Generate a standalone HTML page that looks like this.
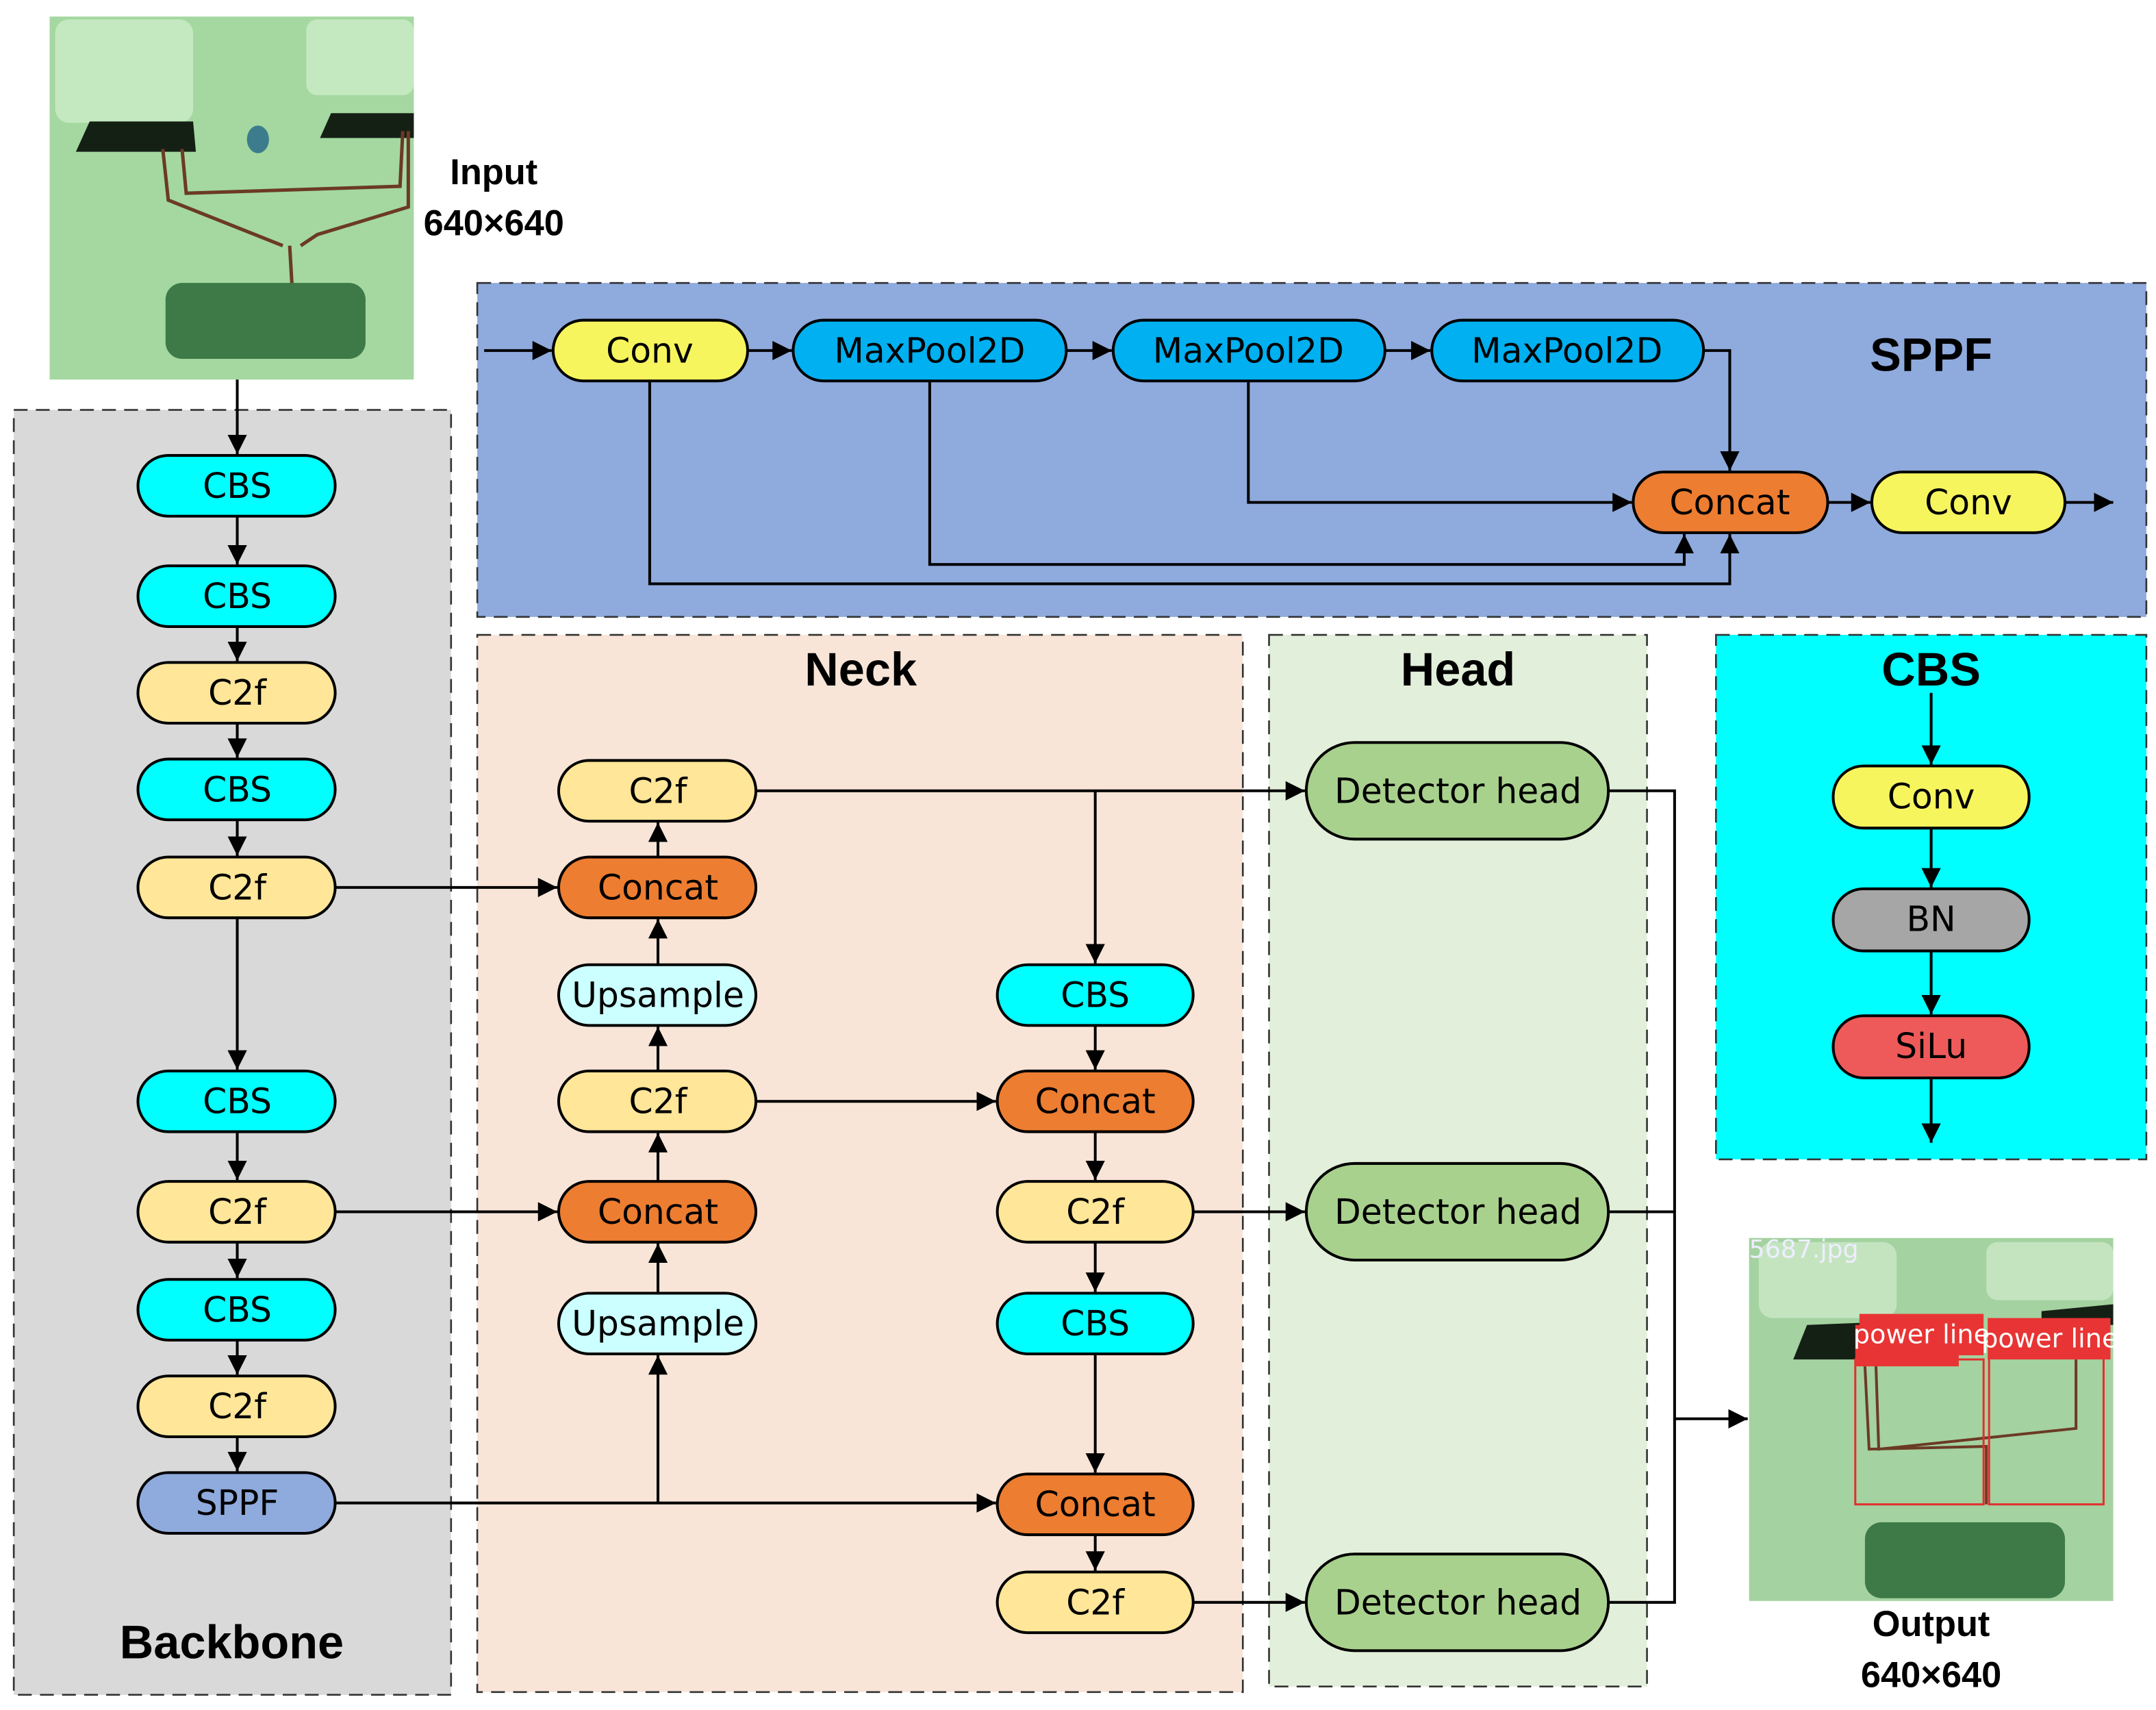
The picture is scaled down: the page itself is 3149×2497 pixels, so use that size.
<!DOCTYPE html>
<html><head><meta charset="utf-8"><style>
html,body{margin:0;padding:0;background:#fff;}
svg{display:block;}
text{font-family:"DejaVu Sans","Liberation Sans",sans-serif;}
.t{font-size:25px;text-anchor:middle;dominant-baseline:central;}
.h{font-family:"Liberation Sans",sans-serif;font-weight:bold;font-size:34px;text-anchor:middle;dominant-baseline:central;}
.n{stroke:#000;stroke-width:2;}
.l{stroke:#000;stroke-width:2;fill:none;}
</style></head><body>
<svg width="3149" height="2497" viewBox="0 0 1563 1239" preserveAspectRatio="none" xmlns="http://www.w3.org/2000/svg">
<defs>
<marker id="b" viewBox="0 0 10 10" markerWidth="14" markerHeight="14" refX="10" refY="5" orient="auto" markerUnits="userSpaceOnUse"><path d="M0,0 L10,5 L0,10 z" fill="#000"/></marker>
</defs>
<rect x="36" y="12" width="264" height="263" fill="#a4d8a0"/>
<rect x="40" y="14" width="100" height="75" rx="10" fill="#c4e8c0"/>
<rect x="222" y="14" width="78" height="55" rx="8" fill="#c4e8c0"/>
<path d="M55,110 L65,88 L140,88 L142,110 Z" fill="#152015"/>
<path d="M232,100 L240,82 L300,82 L300,100 Z" fill="#152015"/>
<ellipse cx="187" cy="101" rx="8" ry="10" fill="#3c7c8c"/>
<path d="M118,108 L122,145 L205,178 M132,108 L135,140 L290,135 L292,95 M210,178 L212,212 M218,178 L230,170 L296,150 L296,95" stroke="#6b3a25" stroke-width="2.5" fill="none"/>
<rect x="120" y="205" width="145" height="55" rx="12" fill="#3d7a48"/>
<text class="h" x="358" y="125" style="font-size:26px">Input</text>
<text class="h" x="358" y="162" style="font-size:26px">640×640</text>

<rect x="10" y="297" width="317" height="931" fill="#d9d9d9" stroke="#333" stroke-width="1.3" stroke-dasharray="10,6"/>
<rect x="346" y="205" width="1210" height="242" fill="#8faadc" stroke="#333" stroke-width="1.3" stroke-dasharray="10,6"/>
<rect x="346" y="460" width="555" height="766" fill="#f8e5d8" stroke="#333" stroke-width="1.3" stroke-dasharray="10,6"/>
<rect x="920" y="460" width="274" height="762" fill="#e2efda" stroke="#333" stroke-width="1.3" stroke-dasharray="10,6"/>
<rect x="1244" y="460" width="312" height="380" fill="#00ffff" stroke="#333" stroke-width="1.3" stroke-dasharray="10,6"/>

<text class="h" x="168" y="1190">Backbone</text>
<text class="h" x="1400" y="257">SPPF</text>
<text class="h" x="624" y="485">Neck</text>
<text class="h" x="1057" y="485">Head</text>
<text class="h" x="1400" y="485">CBS</text>

<g class="l">
<line x1="172" y1="275" x2="172" y2="329" marker-end="url(#b)"/>
<line x1="172" y1="374" x2="172" y2="409" marker-end="url(#b)"/>
<line x1="172" y1="454" x2="172" y2="479" marker-end="url(#b)"/>
<line x1="172" y1="524" x2="172" y2="549" marker-end="url(#b)"/>
<line x1="172" y1="594" x2="172" y2="620" marker-end="url(#b)"/>
<line x1="172" y1="665" x2="172" y2="775" marker-end="url(#b)"/>
<line x1="172" y1="820" x2="172" y2="855" marker-end="url(#b)"/>
<line x1="172" y1="900" x2="172" y2="926" marker-end="url(#b)"/>
<line x1="172" y1="971" x2="172" y2="996" marker-end="url(#b)"/>
<line x1="172" y1="1041" x2="172" y2="1066" marker-end="url(#b)"/>
<line x1="351" y1="254" x2="400" y2="254" marker-end="url(#b)"/>
<line x1="542" y1="254" x2="574" y2="254" marker-end="url(#b)"/>
<line x1="773" y1="254" x2="806" y2="254" marker-end="url(#b)"/>
<line x1="1004" y1="254" x2="1037" y2="254" marker-end="url(#b)"/>
<polyline points="1235,254 1254,254 1254,341" marker-end="url(#b)"/>
<polyline points="905,276 905,364 1183,364" marker-end="url(#b)"/>
<polyline points="674,276 674,409 1221,409 1221,387" marker-end="url(#b)"/>
<polyline points="471,276 471,423 1254,423 1254,387" marker-end="url(#b)"/>
<line x1="1325" y1="364" x2="1356" y2="364" marker-end="url(#b)"/>
<line x1="1497" y1="364" x2="1532" y2="364" marker-end="url(#b)"/>
<line x1="243" y1="643" x2="404" y2="643" marker-end="url(#b)"/>
<line x1="243" y1="878" x2="404" y2="878" marker-end="url(#b)"/>
<line x1="243" y1="1089" x2="722" y2="1089" marker-end="url(#b)"/>
<line x1="477" y1="1089" x2="477" y2="982" marker-end="url(#b)"/>
<line x1="477" y1="937" x2="477" y2="901" marker-end="url(#b)"/>
<line x1="477" y1="856" x2="477" y2="821" marker-end="url(#b)"/>
<line x1="477" y1="776" x2="477" y2="744" marker-end="url(#b)"/>
<line x1="477" y1="699" x2="477" y2="666" marker-end="url(#b)"/>
<line x1="477" y1="621" x2="477" y2="596" marker-end="url(#b)"/>
<line x1="548" y1="573" x2="946" y2="573" marker-end="url(#b)"/>
<line x1="794" y1="573" x2="794" y2="698" marker-end="url(#b)"/>
<line x1="794" y1="743" x2="794" y2="775" marker-end="url(#b)"/>
<line x1="548" y1="798" x2="722" y2="798" marker-end="url(#b)"/>
<line x1="794" y1="820" x2="794" y2="855" marker-end="url(#b)"/>
<line x1="865" y1="878" x2="946" y2="878" marker-end="url(#b)"/>
<line x1="794" y1="900" x2="794" y2="936" marker-end="url(#b)"/>
<line x1="794" y1="981" x2="794" y2="1067" marker-end="url(#b)"/>
<line x1="794" y1="1112" x2="794" y2="1138" marker-end="url(#b)"/>
<line x1="865" y1="1161" x2="946" y2="1161" marker-end="url(#b)"/>
<polyline points="1166,573 1214,573 1214,1161 1166,1161"/>
<line x1="1166" y1="878" x2="1214" y2="878"/>
<line x1="1214" y1="1028" x2="1267" y2="1028" marker-end="url(#b)"/>
<line x1="1400" y1="502" x2="1400" y2="554" marker-end="url(#b)"/>
<line x1="1400" y1="600" x2="1400" y2="643" marker-end="url(#b)"/>
<line x1="1400" y1="689" x2="1400" y2="735" marker-end="url(#b)"/>
<line x1="1400" y1="781" x2="1400" y2="828" marker-end="url(#b)"/>
</g>

<g class="n">
<rect x="100" y="330" width="143" height="44" rx="22" fill="#00ffff"/>
<rect x="100" y="410" width="143" height="44" rx="22" fill="#00ffff"/>
<rect x="100" y="480" width="143" height="44" rx="22" fill="#ffe699"/>
<rect x="100" y="550" width="143" height="44" rx="22" fill="#00ffff"/>
<rect x="100" y="621" width="143" height="44" rx="22" fill="#ffe699"/>
<rect x="100" y="776" width="143" height="44" rx="22" fill="#00ffff"/>
<rect x="100" y="856" width="143" height="44" rx="22" fill="#ffe699"/>
<rect x="100" y="927" width="143" height="44" rx="22" fill="#00ffff"/>
<rect x="100" y="997" width="143" height="44" rx="22" fill="#ffe699"/>
<rect x="100" y="1067" width="143" height="44" rx="22" fill="#8faadc"/>
<rect x="401" y="232" width="141" height="44" rx="22" fill="#f7f55e"/>
<rect x="575" y="232" width="198" height="44" rx="22" fill="#00b0f0"/>
<rect x="807" y="232" width="197" height="44" rx="22" fill="#00b0f0"/>
<rect x="1038" y="232" width="197" height="44" rx="22" fill="#00b0f0"/>
<rect x="1184" y="342" width="141" height="44" rx="22" fill="#ed7d31"/>
<rect x="1357" y="342" width="140" height="44" rx="22" fill="#f7f55e"/>
<rect x="405" y="551" width="143" height="44" rx="22" fill="#ffe699"/>
<rect x="405" y="621" width="143" height="44" rx="22" fill="#ed7d31"/>
<rect x="405" y="699" width="143" height="44" rx="22" fill="#ccffff"/>
<rect x="405" y="776" width="143" height="44" rx="22" fill="#ffe699"/>
<rect x="405" y="856" width="143" height="44" rx="22" fill="#ed7d31"/>
<rect x="405" y="937" width="143" height="44" rx="22" fill="#ccffff"/>
<rect x="723" y="699" width="142" height="44" rx="22" fill="#00ffff"/>
<rect x="723" y="776" width="142" height="44" rx="22" fill="#ed7d31"/>
<rect x="723" y="856" width="142" height="44" rx="22" fill="#ffe699"/>
<rect x="723" y="937" width="142" height="44" rx="22" fill="#00ffff"/>
<rect x="723" y="1068" width="142" height="44" rx="22" fill="#ed7d31"/>
<rect x="723" y="1139" width="142" height="44" rx="22" fill="#ffe699"/>
<rect x="947" y="538" width="219" height="70" rx="35" fill="#a9d18e"/>
<rect x="947" y="843" width="219" height="70" rx="35" fill="#a9d18e"/>
<rect x="947" y="1126" width="219" height="70" rx="35" fill="#a9d18e"/>
<rect x="1329" y="555" width="142" height="45" rx="22" fill="#f7f55e"/>
<rect x="1329" y="644" width="142" height="45" rx="22" fill="#a6a6a6"/>
<rect x="1329" y="736" width="142" height="45" rx="22" fill="#ee5a5a"/>
</g>

<g>
<text class="t" x="172" y="352">CBS</text>
<text class="t" x="172" y="432">CBS</text>
<text class="t" x="172" y="502">C2f</text>
<text class="t" x="172" y="572">CBS</text>
<text class="t" x="172" y="643">C2f</text>
<text class="t" x="172" y="798">CBS</text>
<text class="t" x="172" y="878">C2f</text>
<text class="t" x="172" y="949">CBS</text>
<text class="t" x="172" y="1019">C2f</text>
<text class="t" x="172" y="1089">SPPF</text>
<text class="t" x="471" y="254">Conv</text>
<text class="t" x="674" y="254">MaxPool2D</text>
<text class="t" x="905" y="254">MaxPool2D</text>
<text class="t" x="1136" y="254">MaxPool2D</text>
<text class="t" x="1254" y="364">Concat</text>
<text class="t" x="1427" y="364">Conv</text>
<text class="t" x="477" y="573">C2f</text>
<text class="t" x="477" y="643">Concat</text>
<text class="t" x="477" y="721">Upsample</text>
<text class="t" x="477" y="798">C2f</text>
<text class="t" x="477" y="878">Concat</text>
<text class="t" x="477" y="959">Upsample</text>
<text class="t" x="794" y="721">CBS</text>
<text class="t" x="794" y="798">Concat</text>
<text class="t" x="794" y="878">C2f</text>
<text class="t" x="794" y="959">CBS</text>
<text class="t" x="794" y="1090">Concat</text>
<text class="t" x="794" y="1161">C2f</text>
<text class="t" x="1057" y="573">Detector head</text>
<text class="t" x="1057" y="878">Detector head</text>
<text class="t" x="1057" y="1161">Detector head</text>
<text class="t" x="1400" y="577">Conv</text>
<text class="t" x="1400" y="666">BN</text>
<text class="t" x="1400" y="758">SiLu</text>
</g>

<rect x="1268" y="897" width="264" height="263" fill="#a4d2a0"/>
<rect x="1275" y="900" width="100" height="55" rx="10" fill="#c4e4c0"/>
<rect x="1440" y="900" width="92" height="42" rx="8" fill="#c4e4c0"/>
<path d="M1300,985 L1310,960 L1360,958 L1360,985 Z" fill="#152015"/>
<path d="M1480,950 L1532,945 L1532,960 L1480,960 Z" fill="#152015"/>
<rect x="1352" y="1103" width="145" height="55" rx="12" fill="#3d7a48"/>
<path d="M1352,990 L1355,1050 L1440,1048 L1440,1090 M1360,990 L1362,1050 L1505,1035 L1505,985" stroke="#6b3a25" stroke-width="2" fill="none"/>
<rect x="1345" y="985" width="93" height="105" fill="none" stroke="#e03030" stroke-width="1.5"/>
<rect x="1442" y="975" width="83" height="115" fill="none" stroke="#e03030" stroke-width="1.5"/>
<rect x="1345" y="960" width="75" height="30" fill="#e83434"/>
<rect x="1348" y="952" width="90" height="30" fill="#e83434"/>
<rect x="1441" y="955" width="89" height="30" fill="#e83434"/>
<text x="1393" y="967" font-family="Liberation Sans, sans-serif" font-size="19" fill="#fff" text-anchor="middle" dominant-baseline="central">power line</text>
<text x="1486" y="970" font-family="Liberation Sans, sans-serif" font-size="19" fill="#fff" text-anchor="middle" dominant-baseline="central">power line</text>
<text x="1268" y="905" font-family="Liberation Sans, sans-serif" font-size="18" fill="#eef" dominant-baseline="central">5687.jpg</text>
<text class="h" x="1400" y="1177" style="font-size:26px">Output</text>
<text class="h" x="1400" y="1214" style="font-size:26px">640×640</text>
</svg>
</body></html>
